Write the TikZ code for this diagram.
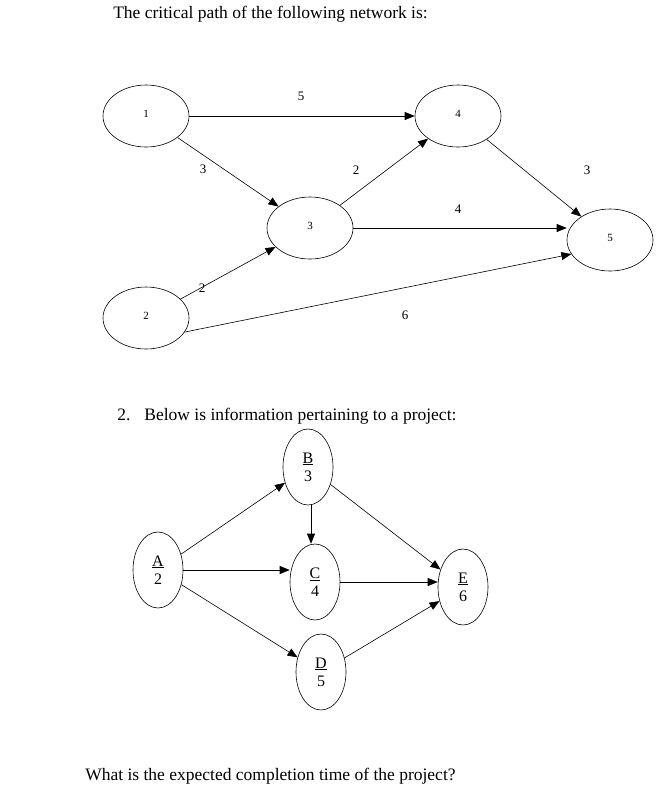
\documentclass[tikz,border=0pt]{standalone}
\usepackage{fontspec}
\setmainfont{Liberation Serif}
\usetikzlibrary{arrows.meta,shapes.geometric}
\begin{document}
\begin{tikzpicture}[x=1pt,y=-1pt,line width=0.6pt,
  top/.style={ellipse,draw,minimum width=86pt,minimum height=62pt,inner sep=0pt,font=\fontsize{11}{12}\selectfont},
  bot/.style={ellipse,draw,minimum width=50pt,minimum height=76pt,inner sep=0pt,font=\fontsize{16}{17}\selectfont,align=center},
  arr/.style={draw,-{Triangle[length=10pt,width=8pt]}},
  lab/.style={font=\fontsize{13}{13}\selectfont,inner sep=1pt},
  txt/.style={font=\fontsize{17.5}{20}\selectfont,anchor=west,inner sep=0pt}]
\useasboundingbox (0,0) rectangle (666,796);
\node[txt] (t1) at (113,14) {The critical path of the following network is:};
\node[top] (n1) at (146,116) {\raisebox{4pt}{1}};
\node[top] (n2) at (146,318) {\raisebox{4pt}{2}};
\node[top] (n3) at (310,228) {\raisebox{4pt}{3}};
\node[top] (n4) at (458,116) {\raisebox{4pt}{4}};
\node[top] (n5) at (610,240) {\raisebox{4pt}{5}};
\draw[arr] (n1.east) -- (n4.west);
\draw[arr] (n1) -- (n3);
\draw[arr] (n2) -- (n3);
\draw[arr] (n3) -- (n4);
\draw[arr] (n3.east) -- (n5.west |- n3.east);
\draw[arr] (n4) -- (n5);
\draw[arr] (n2.-20) -- (n5.-160);
\node[lab] (l5) at (301,96) {5};
\node[lab] (l3a) at (203,169) {3};
\node[lab] (l2a) at (356,170) {2};
\node[lab] (l3b) at (587,170) {3};
\node[lab] (l4) at (458,209) {4};
\node[lab] (l2b) at (202,288) {2};
\node[lab] (l6) at (405,315) {6};
\node[txt] (t2) at (117,416) {2.\hspace{0.8em}Below is information pertaining to a project:};
\node[bot] (A) at (158,570) {\underline{A}\\[1pt]2};
\node[bot] (B) at (308,467) {\underline{B}\\[1pt]3};
\node[bot] (C) at (315,582) {\underline{C}\\[1pt]4};
\node[bot] (D) at (321,672) {\underline{D}\\[1pt]5};
\node[bot] (E) at (463,587) {\underline{E}\\[1pt]6};
\draw[arr] (A) -- (B);
\draw[arr] (A.east) -- (C.west |- A.east);
\draw[arr] (A) -- (D);
\draw[arr] (B.south -| 311,0) -- (C.north -| 311,0);
\draw[arr] (B) -- (E);
\draw[arr] (C) -- (E.west |- C);
\draw[arr] (D) -- (E);
\node[txt] (t3) at (85,776) {What is the expected completion time of the project?};
\end{tikzpicture}
\end{document}
